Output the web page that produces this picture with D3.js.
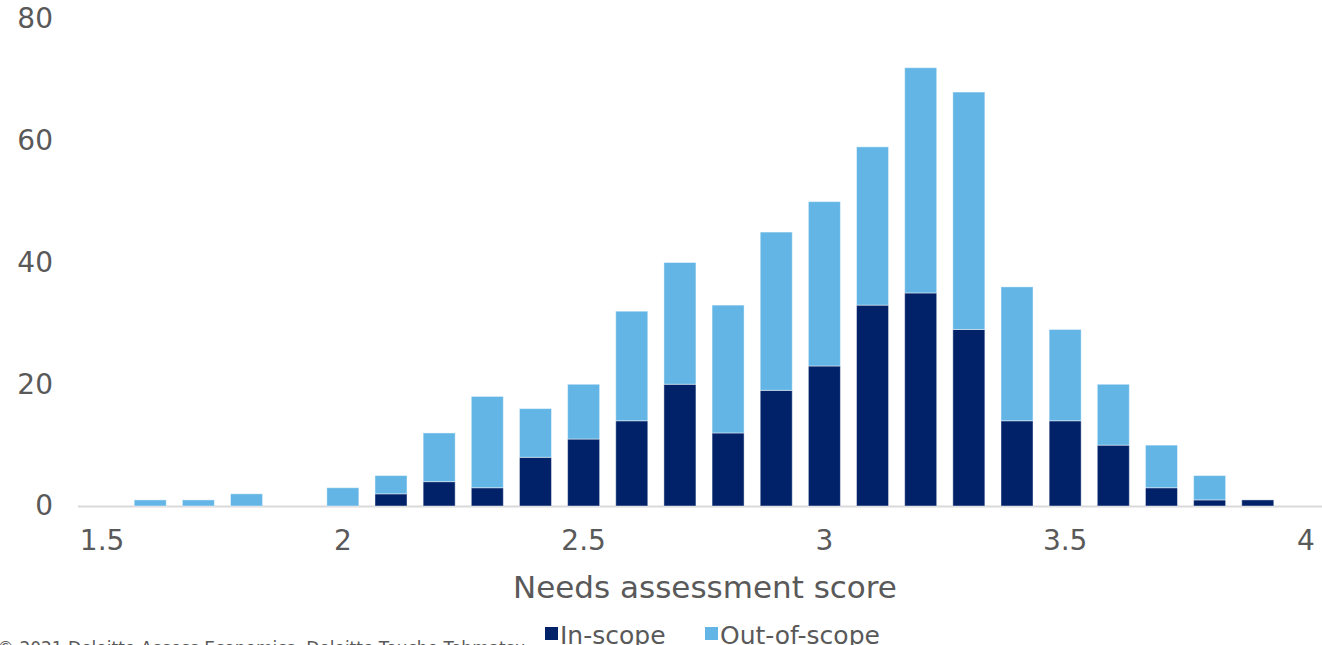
<!DOCTYPE html>
<html>
<head>
<meta charset="utf-8">
<script src="https://cdn.jsdelivr.net/npm/d3@7"></script>
<style>
  html, body { margin: 0; padding: 0; background: #fff; overflow: hidden; }
  svg { display: block; font-family: "DejaVu Sans", Verdana, sans-serif; }
</style>
</head>
<body>
<svg id="chart" width="1322" height="645"></svg>
<script>
// Score bins (0.1 wide) on the x axis
const scores = ["1.5","1.6","1.7","1.8","1.9","2.0","2.1","2.2","2.3","2.4","2.5","2.6","2.7",
                "2.8","2.9","3.0","3.1","3.2","3.3","3.4","3.5","3.6","3.7","3.8","3.9","4.0"];
// Count of in-scope assessments per bin
const inScope    = [0,0,0,0,0,0,2,4,3,8,11,14,20,12,19,23,33,35,29,14,14,10,3,1,1,0];
// Count of out-of-scope assessments per bin
const outOfScope = [0,1,1,2,0,3,3,8,15,8,9,18,20,21,26,27,26,37,39,22,15,10,7,4,0,0];
// Labelled bins on the x axis and their labels
const xTickValues = ["1.5","2.0","2.5","3.0","3.5","4.0"];
const xTickLabels = ["1.5","2","2.5","3","3.5","4"];
const yTicks = [0,20,40,60,80];
const seriesNames = ["In-scope","Out-of-scope"];
const colors = ["#012169","#62B5E5"];

const svg = d3.select("#chart");

const x = d3.scaleBand()
  .domain(scores)
  .range([78, 1330])
  .paddingInner(0.335)
  .paddingOuter(0.1675);

const y = d3.scaleLinear().domain([0, 80]).range([506, 19]);

// Stack the two series
const rows = scores.map((s, i) => ({ score: s, "In-scope": inScope[i], "Out-of-scope": outOfScope[i] }));
const stacked = d3.stack().keys(seriesNames)(rows);

// Baseline
svg.append("line")
  .attr("x1", 78).attr("x2", 1322)
  .attr("y1", y(0) + 0.5).attr("y2", y(0) + 0.5)
  .attr("stroke", "#d9d9d9").attr("stroke-width", 2);

// Bars
svg.append("g").selectAll("g")
  .data(stacked)
  .join("g")
    .attr("fill", (d, i) => colors[i])
  .selectAll("rect")
  .data(d => d.filter(p => p[1] > p[0]))
  .join("rect")
    .attr("x", d => x(d.data.score))
    .attr("width", x.bandwidth())
    .attr("y", d => y(d[1]))
    .attr("height", d => y(d[0]) - y(d[1]))
    .attr("stroke", "rgba(255,255,255,0.45)")
    .attr("stroke-width", 1);

// Y axis labels
const yAxis = d3.axisLeft(y).tickValues(yTicks).tickSize(0).tickPadding(0);
svg.append("g")
  .attr("transform", "translate(53,0)")
  .call(yAxis)
  .call(g => g.select(".domain").remove())
  .call(g => g.selectAll("text")
    .attr("fill", "#595959")
    .attr("font-size", 28)
    .attr("font-family", "DejaVu Sans, Verdana, sans-serif"));

// X axis labels
const xAxis = d3.axisBottom(x)
  .tickValues(xTickValues)
  .tickFormat(d => xTickLabels[xTickValues.indexOf(d)])
  .tickSize(0).tickPadding(0);
svg.append("g")
  .attr("transform", `translate(0,${y(0) + 24})`)
  .call(xAxis)
  .call(g => g.select(".domain").remove())
  .call(g => g.selectAll("text")
    .attr("fill", "#595959")
    .attr("font-size", 28)
    .attr("dy", "0.71em")
    .attr("font-family", "DejaVu Sans, Verdana, sans-serif"));

// Axis title
svg.append("text")
  .attr("x", 705).attr("y", 598)
  .attr("text-anchor", "middle")
  .attr("fill", "#595959")
  .attr("font-size", 31)
  .text("Needs assessment score");

// Legend
const legendX = [545, 705];
const legend = svg.append("g").selectAll("g")
  .data(seriesNames)
  .join("g")
    .attr("transform", (d, i) => `translate(${legendX[i]},627)`);
legend.append("rect")
  .attr("width", 13).attr("height", 13)
  .attr("fill", (d, i) => colors[i]);
legend.append("text")
  .attr("x", 15).attr("y", 17)
  .attr("fill", "#595959")
  .attr("font-size", 25)
  .text(d => d);

// Source note
svg.append("text")
  .attr("x", -3).attr("y", 654)
  .attr("fill", "#595959")
  .attr("font-size", 17)
  .text("© 2021 Deloitte Access Economics. Deloitte Touche Tohmatsu");
</script>
</body>
</html>
